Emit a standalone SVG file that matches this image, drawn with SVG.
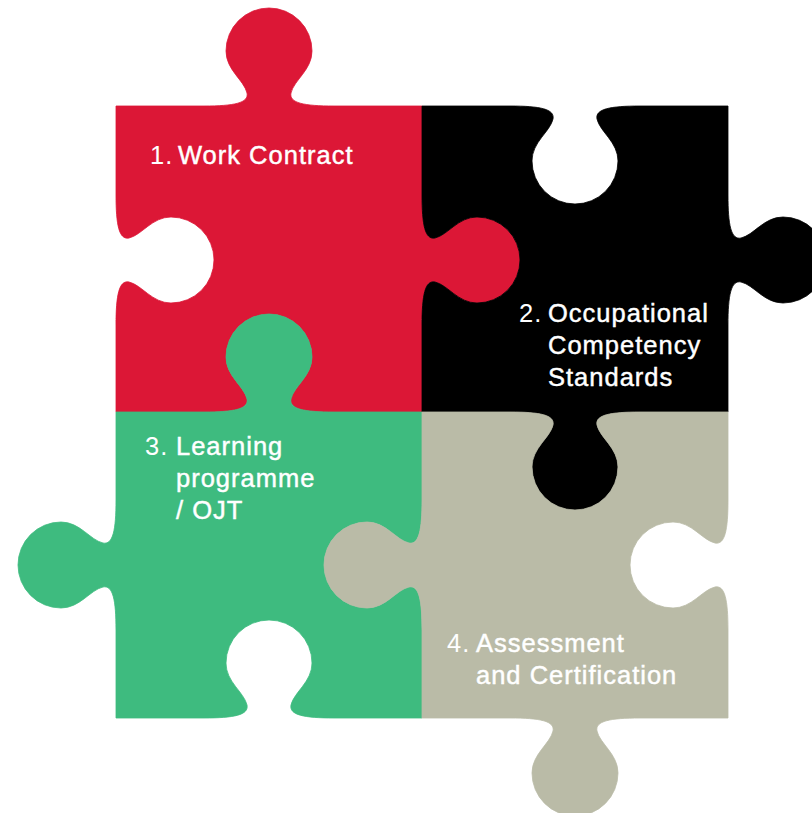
<svg xmlns="http://www.w3.org/2000/svg" width="812" height="813" viewBox="0 0 812 813">
<style>
.piece{stroke-width:0.8;stroke-linejoin:round}
.red{fill:#DC1736;stroke:#DC1736}
.black{fill:#000000;stroke:#000000}
.green{fill:#3EBB7F;stroke:#3EBB7F}
.gray{fill:#BABBA7;stroke:#BABBA7}
.lbl{font-family:"Liberation Sans",Arial,sans-serif;font-size:25.5px;fill:#ffffff;letter-spacing:1px}
.main{stroke:#ffffff;stroke-width:0.45}
.num{font-weight:normal}
</style>
<rect width="812" height="813" fill="#ffffff"/>
<g id="piece1">
<path class="piece red" d="M116,106 L204,106 C234,106 249,103 247,93 C244,80 226,70 226,51 A43,43 0 0 1 312,51 C312,70 294,80 291,93 C289,103 304,106 334,106 L422,106 L422,195 C422,225 425,240 435,238 C448,235 458,217 477,217 A43,43 0 0 1 477,303 C458,303 448,285 435,282 C425,280 422,295 422,325 L422,412 L334,412 C304,412 289,409 291,399 C294,386 312,376 312,357 A43,43 0 0 0 226,357 C226,376 244,386 247,399 C249,409 234,412 204,412 L116,412 L116,325 C116,295 119,280 129,282 C142,285 152,303 171,303 A43,43 0 0 0 171,217 C152,217 142,235 129,238 C119,240 116,225 116,195 Z"/>
<text class="lbl"><tspan class="num" x="150" y="164">1.</tspan><tspan class="main" x="178" y="164">Work Contract</tspan></text>
</g>
<g id="piece2">
<path class="piece black" d="M422,106 L510,106 C540,106 555,109 553,119 C550,132 532,142 532,161 A43,43 0 0 0 618,161 C618,142 600,132 597,119 C595,109 610,106 640,106 L728,106 L728,195 C728,225 731,240 741,238 C754,235 764,217 783,217 A43,43 0 0 1 783,303 C764,303 754,285 741,282 C731,280 728,295 728,325 L728,412 L640,412 C610,412 595,415 597,425 C600,438 618,448 618,467 A43,43 0 0 1 532,467 C532,448 550,438 553,425 C555,415 540,412 510,412 L422,412 L422,325 C422,295 425,280 435,282 C448,285 458,303 477,303 A43,43 0 0 0 477,217 C458,217 448,235 435,238 C425,240 422,225 422,195 Z"/>
<text class="lbl"><tspan class="num" x="519" y="322">2.</tspan><tspan class="main" x="548" y="322">Occupational</tspan><tspan class="main" x="548" y="354">Competency</tspan><tspan class="main" x="548" y="386">Standards</tspan></text>
</g>
<g id="piece3">
<path class="piece green" d="M116,412 L204,412 C234,412 249,409 247,399 C244,386 226,376 226,357 A43,43 0 0 1 312,357 C312,376 294,386 291,399 C289,409 304,412 334,412 L422,412 L422,500 C422,530 419,545 409,543 C396,540 386,522 367,522 A43,43 0 0 0 367,608 C386,608 396,590 409,587 C419,585 422,600 422,630 L422,718 L334,718 C304,718 289,715 291,705 C294,692 312,682 312,663 A43,43 0 0 0 226,663 C226,682 244,692 247,705 C249,715 234,718 204,718 L116,718 L116,630 C116,600 113,585 103,587 C90,590 80,608 61,608 A43,43 0 0 1 61,522 C80,522 90,540 103,543 C113,545 116,530 116,500 Z"/>
<text class="lbl"><tspan class="num" x="145" y="455">3.</tspan><tspan class="main" x="176" y="455">Learning</tspan><tspan class="main" x="176" y="487">programme</tspan><tspan class="main" x="176" y="519">/ OJT</tspan></text>
</g>
<g id="piece4">
<path class="piece gray" d="M422,412 L510,412 C540,412 555,415 553,425 C550,438 532,448 532,467 A43,43 0 0 0 618,467 C618,448 600,438 597,425 C595,415 610,412 640,412 L728,412 L728,500 C728,530 725,545 715,543 C702,540 692,522 673,522 A43,43 0 0 0 673,608 C692,608 702,590 715,587 C725,585 728,600 728,630 L728,718 L640,718 C610,718 595,721 597,731 C600,744 618,754 618,773 A43,43 0 0 1 532,773 C532,754 550,744 553,731 C555,721 540,718 510,718 L422,718 L422,630 C422,600 419,585 409,587 C396,590 386,608 367,608 A43,43 0 0 1 367,522 C386,522 396,540 409,543 C419,545 422,530 422,500 Z"/>
<text class="lbl"><tspan class="num" x="447" y="652">4.</tspan><tspan class="main" x="476" y="652">Assessment</tspan><tspan class="main" x="476" y="684">and Certification</tspan></text>
</g>
<g id="connectors"></g>
</svg>
